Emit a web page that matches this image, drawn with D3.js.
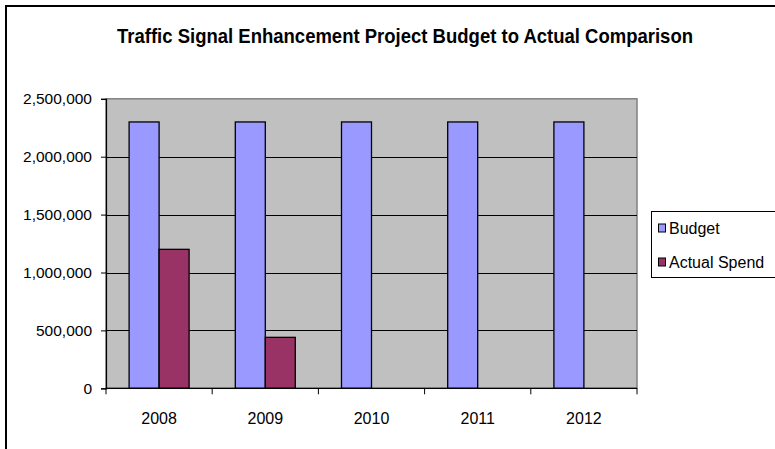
<!DOCTYPE html>
<html>
<head>
<meta charset="utf-8">
<script src="https://cdn.jsdelivr.net/npm/d3@7"></script>
<style>
  html, body { margin: 0; padding: 0; background: #fff; }
  svg { display: block; font-family: "Liberation Sans", Arial, sans-serif; }
</style>
</head>
<body>
<svg id="chart" width="775" height="449"></svg>
<script>
// Budget vs. actual spend per year
const years = ["2008", "2009", "2010", "2011", "2012"];
const budget = [2300000, 2300000, 2300000, 2300000, 2300000];
const actualSpend = [1200000, 440000, 0, 0, 0];
const seriesNames = ["Budget", "Actual Spend"];
const seriesColors = ["#9999FF", "#993366"];
const yTicks = [0, 500000, 1000000, 1500000, 2000000, 2500000];

const svg = d3.select("#chart");
const FONT = "Liberation Sans, Arial, sans-serif";

// outer chart frame (runs off the right and bottom edges)
svg.append("rect")
  .attr("x", 6).attr("y", 6)
  .attr("width", 800).attr("height", 480)
  .attr("fill", "#fff").attr("stroke", "#000").attr("stroke-width", 2);

const plot = { left: 106, top: 98.8, right: 637, bottom: 388.3 };

const x = d3.scaleBand().domain(years).range([plot.left, plot.right]);
const y = d3.scaleLinear().domain([0, 2500000]).range([plot.bottom, plot.top]);

// plot area
svg.append("rect")
  .attr("x", plot.left).attr("y", plot.top)
  .attr("width", plot.right - plot.left).attr("height", plot.bottom - plot.top)
  .attr("fill", "#C0C0C0").attr("stroke", "#808080").attr("stroke-width", 1.5);

// horizontal gridlines
svg.append("g").selectAll("line")
  .data(yTicks.filter(d => d > 0 && d < 2500000))
  .join("line")
  .attr("x1", plot.left).attr("x2", plot.right)
  .attr("y1", d => Math.round(y(d)) + 0.5).attr("y2", d => Math.round(y(d)) + 0.5)
  .attr("stroke", "#000").attr("stroke-width", 1);

// bars
const barW = 30;
const rows = years.map((yr, i) => ({ yr, values: [budget[i], actualSpend[i]] }));
const groups = svg.append("g").selectAll("g")
  .data(rows).join("g");
groups.selectAll("rect")
  .data(d => d.values.map((v, j) => ({ yr: d.yr, v, j })).filter(d => d.v > 0))
  .join("rect")
  .attr("x", d => x(d.yr) + x.bandwidth() / 2 - barW + d.j * barW)
  .attr("y", d => y(d.v))
  .attr("width", barW)
  .attr("height", d => y(0) - y(d.v))
  .attr("fill", d => seriesColors[d.j])
  .attr("stroke", "#000").attr("stroke-width", 1.3);

// y axis
const yAxis = svg.append("g")
  .attr("transform", `translate(${plot.left},0)`)
  .call(d3.axisLeft(y).tickValues(yTicks).tickFormat(d3.format(",")).tickSize(5).tickPadding(9));
yAxis.select(".domain").attr("stroke", "#000").attr("stroke-width", 1.2);
yAxis.selectAll(".tick line").attr("stroke", "#000");
yAxis.selectAll("text").attr("font-size", 15.5).attr("fill", "#000")
  .attr("font-family", FONT);

// x axis with ticks at category boundaries
const xAxis = svg.append("g")
  .attr("transform", `translate(0,${plot.bottom})`);
xAxis.append("line")
  .attr("x1", plot.left).attr("x2", plot.right)
  .attr("stroke", "#000").attr("stroke-width", 1.2);
xAxis.selectAll("line.tk")
  .data(years.map(d => x(d)).concat([plot.right]))
  .join("line").attr("class", "tk")
  .attr("x1", d => d).attr("x2", d => d)
  .attr("y1", 0).attr("y2", 6)
  .attr("stroke", "#000");
xAxis.selectAll("text")
  .data(years).join("text")
  .attr("x", d => x(d) + x.bandwidth() / 2)
  .attr("y", 36)
  .attr("text-anchor", "middle")
  .attr("font-family", FONT)
  .attr("font-size", 16)
  .text(d => d);

// title
svg.append("text")
  .attr("x", 405).attr("y", 43)
  .attr("text-anchor", "middle")
  .attr("font-family", "Liberation Sans Narrow, Liberation Sans, Arial, sans-serif")
  .attr("font-size", 21).attr("font-weight", "bold")
  .attr("textLength", 576).attr("lengthAdjust", "spacingAndGlyphs")
  .text("Traffic Signal Enhancement Project Budget to Actual Comparison");

// legend (box runs past the right edge)
const lg = svg.append("g").attr("transform", "translate(651.5,211.5)");
lg.append("rect")
  .attr("width", 160).attr("height", 66)
  .attr("fill", "#fff").attr("stroke", "#000").attr("stroke-width", 1);
seriesNames.forEach((name, i) => {
  const row = lg.append("g").attr("transform", `translate(0,${16.5 + i * 34})`);
  row.append("rect")
    .attr("x", 7).attr("y", -4).attr("width", 7).attr("height", 8)
    .attr("fill", seriesColors[i]).attr("stroke", "#000").attr("stroke-width", 1);
  row.append("text")
    .attr("x", 17.5).attr("y", 5.5)
    .attr("font-family", FONT)
    .attr("font-size", 16)
    .text(name);
});
</script>
</body>
</html>
